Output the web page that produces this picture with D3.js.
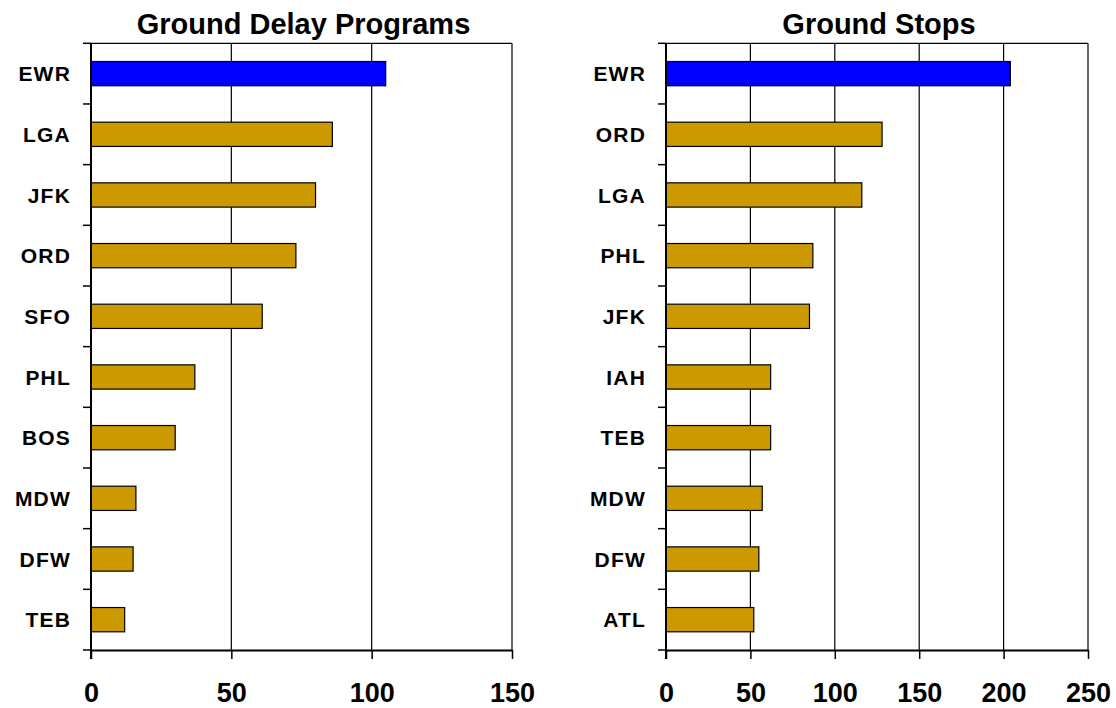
<!DOCTYPE html>
<html>
<head>
<meta charset="utf-8">
<script src="https://cdn.jsdelivr.net/npm/d3@7"></script>
<style>
  html, body { margin: 0; padding: 0; background: #fff; }
  svg { display: block; font-family: "Liberation Sans", Arial, sans-serif; }
</style>
</head>
<body>
<svg id="chart" width="1116" height="708"></svg>
<script>
// ---- data ----
const gdpTitle = "Ground Delay Programs";
const gdpAirports = ["EWR", "LGA", "JFK", "ORD", "SFO", "PHL", "BOS", "MDW", "DFW", "TEB"];
const gdpValues   = [105, 86, 80, 73, 61, 37, 30, 16, 15, 12];
const gdpTicks    = [0, 50, 100, 150];

const gsTitle = "Ground Stops";
const gsAirports = ["EWR", "ORD", "LGA", "PHL", "JFK", "IAH", "TEB", "MDW", "DFW", "ATL"];
const gsValues   = [204, 128, 116, 87, 85, 62, 62, 57, 55, 52];
const gsTicks    = [0, 50, 100, 150, 200, 250];

const highlight = "EWR";

// ---- drawing ----
const svg = d3.select("#chart");

function panel(opts) {
  const { title, cats, vals, ticks, left, right, top, bottom } = opts;
  const data = cats.map((c, i) => ({ cat: c, val: vals[i] }));
  const x = d3.scaleLinear().domain([0, ticks[ticks.length - 1]]).range([left, right]);
  const y = d3.scaleBand().domain(cats).range([top, bottom]).paddingInner(0.6).paddingOuter(0.3);
  const g = svg.append("g");

  // gridlines
  g.append("g").selectAll("line").data(ticks.slice(1)).join("line")
    .attr("x1", d => x(d)).attr("x2", d => x(d))
    .attr("y1", top).attr("y2", bottom)
    .attr("stroke", "#000").attr("stroke-width", 1.2);

  // top border
  g.append("line").attr("x1", left).attr("x2", right).attr("y1", top).attr("y2", top)
    .attr("stroke", "#000").attr("stroke-width", 1.2);

  // bars
  g.append("g").selectAll("rect").data(data).join("rect")
    .attr("x", x(0))
    .attr("y", d => y(d.cat))
    .attr("width", d => x(d.val) - x(0))
    .attr("height", y.bandwidth())
    .attr("fill", d => d.cat === highlight ? "#0000FF" : "#CC9900")
    .attr("stroke", "#000").attr("stroke-width", 1.2);

  // x axis
  const xAxis = d3.axisBottom(x).tickValues(ticks).tickSize(9).tickPadding(24).tickSizeOuter(0);
  const xg = g.append("g").attr("transform", `translate(0,${bottom})`).call(xAxis);
  xg.select(".domain").attr("stroke", "#000").attr("stroke-width", 2);
  xg.selectAll(".tick line").attr("stroke", "#000").attr("stroke-width", 1.5);
  xg.selectAll(".tick text")
    .attr("fill", "#000")
    .style("font-family", "'Liberation Sans', Arial, sans-serif")
    .style("font-size", "27px").style("font-weight", "bold");

  // y axis line
  g.append("line").attr("x1", left).attr("x2", left).attr("y1", top).attr("y2", bottom + 9)
    .attr("stroke", "#000").attr("stroke-width", 2);
  // y ticks at band boundaries
  const bounds = cats.map(c => y(c) - y.step() * y.paddingInner() / 2).concat([bottom]);
  g.append("g").selectAll("line").data(bounds).join("line")
    .attr("x1", left - 8).attr("x2", left)
    .attr("y1", d => d).attr("y2", d => d)
    .attr("stroke", "#000").attr("stroke-width", 1.5);

  // category labels
  g.append("g").selectAll("text").data(cats).join("text")
    .attr("x", left - 20)
    .attr("y", d => y(d) + y.bandwidth() / 2)
    .attr("dy", "0.36em")
    .attr("text-anchor", "end")
    .style("font-size", "21px").style("font-weight", "bold")
    .style("letter-spacing", "1.2px")
    .text(d => d);

  // title
  g.append("text")
    .attr("x", (left + right) / 2 + 2)
    .attr("y", 34)
    .attr("text-anchor", "middle")
    .style("font-size", "29px").style("font-weight", "bold")
    .text(title);
}

panel({ title: gdpTitle, cats: gdpAirports, vals: gdpValues, ticks: gdpTicks,
        left: 91, right: 512, top: 43.3, bottom: 650 });
panel({ title: gsTitle, cats: gsAirports, vals: gsValues, ticks: gsTicks,
        left: 666, right: 1088, top: 43.3, bottom: 650 });
</script>
</body>
</html>
